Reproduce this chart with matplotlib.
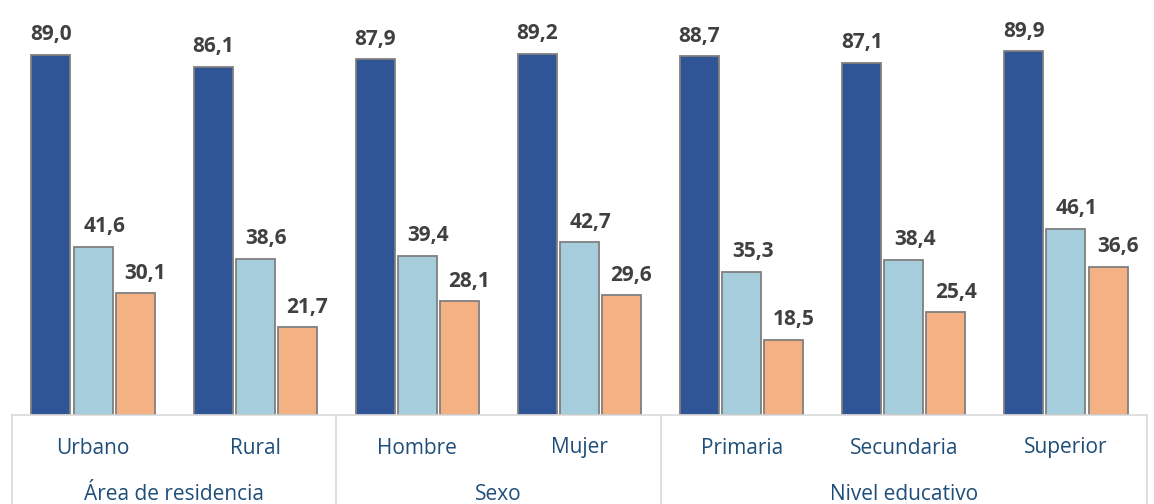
import matplotlib.pyplot as plt
import matplotlib.transforms as mtransforms
import numpy as np

plt.rcParams['font.family'] = ['Open Sans', 'DejaVu Sans']

categorias = ["Urbano", "Rural", "Hombre", "Mujer", "Primaria", "Secundaria", "Superior"]
grupos = ["Área de residencia", "Sexo", "Nivel educativo"]
grupo_limites = [0, 2, 4, 7]

serie_1 = [89.0, 86.1, 87.9, 89.2, 88.7, 87.1, 89.9]
serie_2 = [41.6, 38.6, 39.4, 42.7, 35.3, 38.4, 46.1]
serie_3 = [30.1, 21.7, 28.1, 29.6, 18.5, 25.4, 36.6]

colores = ["#2F5597", "#A5CDDB", "#F4B183"]
series = [serie_1, serie_2, serie_3]
# desplazamiento horizontal de las etiquetas (puntos), como en el original
desplaz = [0, 8, 7]

fig = plt.figure(figsize=(11.54, 5.04), dpi=100)
ax = fig.add_axes([12 / 1154, 89 / 504, 1135 / 1154, 415 / 504])

x = np.arange(len(categorias))
ancho = 0.24
paso = 0.26
for i, (vals, col) in enumerate(zip(series, colores)):
    pos = x + (i - 1) * paso
    ax.bar(pos, vals, width=ancho, color=col, edgecolor="#7F7F7F", linewidth=1.3, zorder=3)
    for px, v in zip(pos, vals):
        ax.annotate(f"{v:.1f}".replace(".", ","), (px, v), xytext=(desplaz[i], 7),
                    textcoords="offset points", ha="center", va="bottom",
                    fontsize=15, fontweight="bold", color="#404040")

ax.set_xlim(-0.5, len(categorias) - 0.5)
ax.set_ylim(0, 102.6)
for s in ax.spines.values():
    s.set_visible(False)
ax.set_xticks([])
ax.set_yticks([])

trans = mtransforms.blended_transform_factory(ax.transData, ax.transAxes)
gris = "#D9D9D9"
ax.plot([-0.5, len(categorias) - 0.5], [0, 0], transform=trans, color=gris, lw=1.2, clip_on=False, zorder=4)
for b in grupo_limites:
    ax.plot([b - 0.5, b - 0.5], [0, -89 / 415], transform=trans, color=gris, lw=1.2, clip_on=False)

texto_col = "#1F4E79"
for xi, nombre in zip(x, categorias):
    ax.text(xi, -33 / 415, nombre, transform=trans, ha="center", va="center",
            fontsize=15, color=texto_col)
for g, nombre in enumerate(grupos):
    centro = (grupo_limites[g] + grupo_limites[g + 1]) / 2 - 0.5
    ax.text(centro, -80 / 415, nombre, transform=trans, ha="center", va="center",
            fontsize=15, color=texto_col)

fig.savefig("out.png", dpi=100)
